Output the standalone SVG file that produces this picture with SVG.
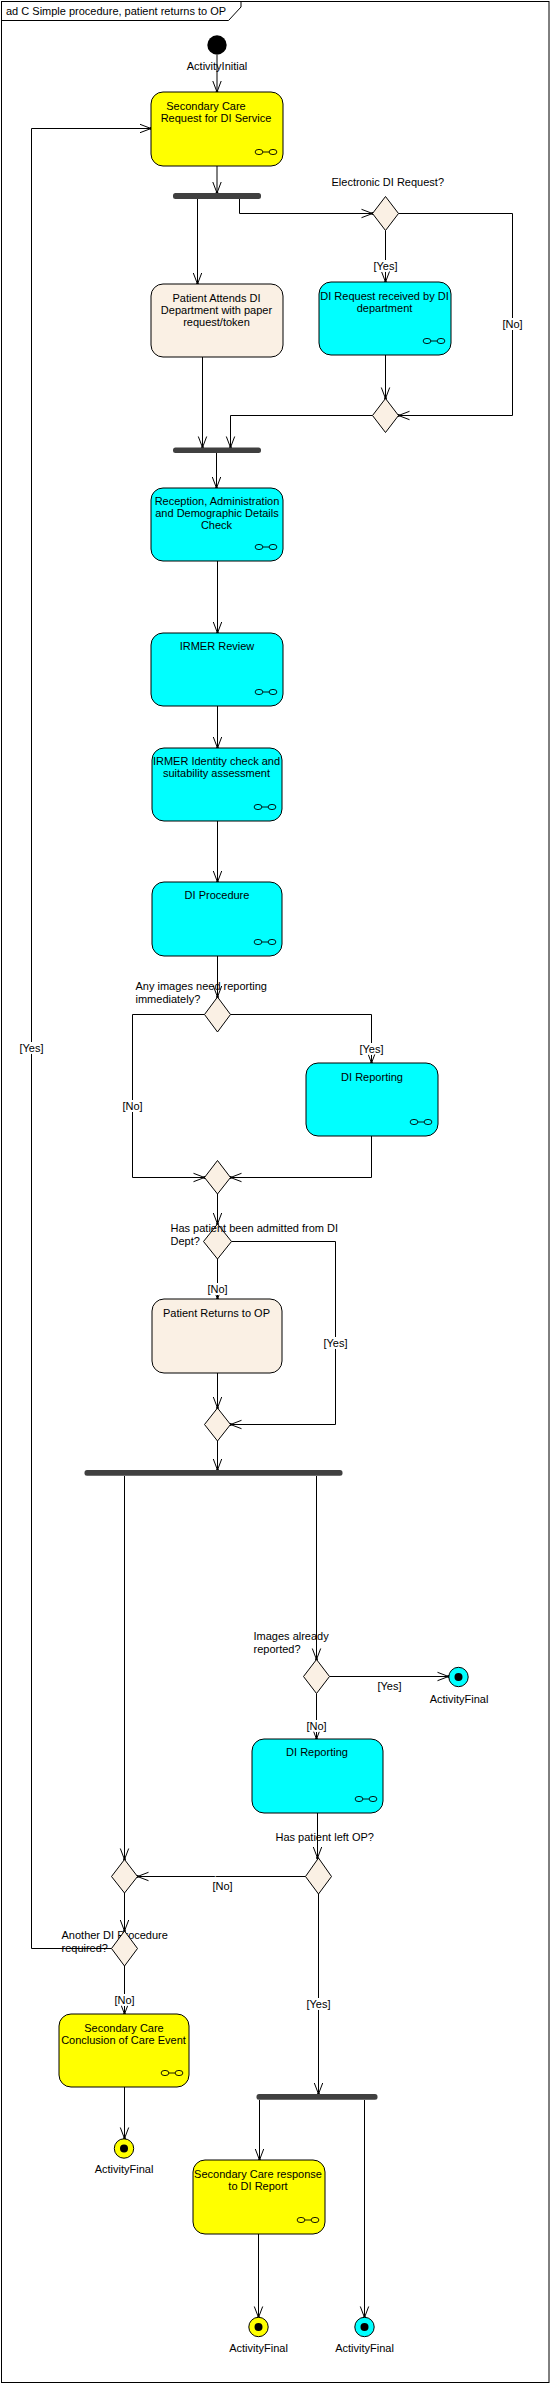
<svg xmlns="http://www.w3.org/2000/svg" width="551" height="2384" viewBox="0 0 551 2384">
<style>
text{font-family:"Liberation Sans",Arial,sans-serif;font-size:11px;fill:#000}
.c{text-anchor:middle}
.lbl{text-anchor:middle;stroke:#fff;stroke-width:4;paint-order:stroke}
.act{stroke:#000;stroke-width:1}
.y{fill:#ffff00}
.cy{fill:#00ffff}
.ln{fill:#faf0e4}
.dec{fill:#faf0e4;stroke:#000;stroke-width:1}
.bar{fill:#404040}
.edge{fill:none;stroke:#000;stroke-width:1;marker-end:url(#arr)}
</style>
<defs>
<marker id="arr" markerUnits="userSpaceOnUse" markerWidth="14" markerHeight="12" viewBox="-12 -6 14 12" refX="0" refY="0" orient="auto">
<path d="M-11,-4.2 L0,0 L-11,4.2" fill="none" stroke="#000" stroke-width="1"/>
<circle cx="0" cy="0" r="1.4" fill="#000"/>
</marker>
<g id="sub">
<ellipse cx="0" cy="0" rx="3.9" ry="2.6" fill="none" stroke="#000" stroke-width="0.9"/>
<ellipse cx="14" cy="0" rx="3.9" ry="2.6" fill="none" stroke="#000" stroke-width="0.9"/>
<line x1="3.9" y1="0" x2="10.1" y2="0" stroke="#000" stroke-width="0.9"/>
</g>
</defs>
<rect width="551" height="2384" fill="#fff"/>
<g id="frame">
<rect x="1.5" y="1.5" width="547.5" height="2381" fill="none" stroke="#000" stroke-width="1"/>
<path d="M1.5,20.5 H228.5 L241,7 V1.5" fill="none" stroke="#000" stroke-width="1"/>
<text x="6" y="14.5">ad C Simple procedure, patient returns to OP</text>
</g>
<g id="connectors">
<path class="edge" d="M217,55 V92"/>
<path class="edge" d="M217,166 V193"/>
<path class="edge" d="M197.5,199 V284"/>
<path class="edge" d="M239.5,199 V213.5 H372.5"/>
<path class="edge" d="M385.5,230.5 V282"/>
<path class="edge" d="M398.5,213.5 H512.5 V415.5 H398.5"/>
<path class="edge" d="M385.5,355 V398.5"/>
<path class="edge" d="M202.5,357 V447.5"/>
<path class="edge" d="M372.5,415.5 H230.5 V447.5"/>
<path class="edge" d="M216.5,453 V488"/>
<path class="edge" d="M217.5,561 V633"/>
<path class="edge" d="M217.5,706 V748"/>
<path class="edge" d="M217.5,821 V882"/>
<path class="edge" d="M217.5,956 V997"/>
<path class="edge" d="M204.5,1014.5 H132.5 V1177.5 H204.5"/>
<path class="edge" d="M230.5,1014.5 H371.5 V1063"/>
<path class="edge" d="M371.5,1136 V1177.5 H230.5"/>
<path class="edge" d="M217.5,1194 V1224"/>
<path class="edge" d="M217.5,1259 V1299"/>
<path class="edge" d="M231.5,1241.5 H335.5 V1424.5 H230.5"/>
<path class="edge" d="M217.5,1373 V1408"/>
<path class="edge" d="M217.5,1441 V1470"/>
<path class="edge" d="M124.5,1476 V1859.5"/>
<path class="edge" d="M316.5,1476 V1659.5"/>
<path class="edge" d="M329.5,1676.5 H448.5"/>
<path class="edge" d="M316.5,1693.5 V1739"/>
<path class="edge" d="M317.5,1813 V1858"/>
<path class="edge" d="M305.5,1876.5 H137.5"/>
<path class="edge" d="M124.5,1893 V1931"/>
<path class="edge" d="M111.5,1948.5 H31.5 V128.5 H151"/>
<path class="edge" d="M124.5,1966 V2014"/>
<path class="edge" d="M318.5,1894 V2094"/>
<path class="edge" d="M124.5,2087 V2138.5"/>
<path class="edge" d="M259.5,2100 V2160"/>
<path class="edge" d="M364.5,2100 V2317.5"/>
<path class="edge" d="M258.5,2234 V2317.5"/>
<text class="lbl" x="385.5" y="270">[Yes]</text>
<text class="lbl" x="512.5" y="328">[No]</text>
<text class="lbl" x="132.5" y="1110">[No]</text>
<text class="lbl" x="371.5" y="1053">[Yes]</text>
<text class="lbl" x="217.5" y="1292.5">[No]</text>
<text class="lbl" x="335.5" y="1347">[Yes]</text>
<text class="lbl" x="389.5" y="1689.5">[Yes]</text>
<text class="lbl" x="316.5" y="1730">[No]</text>
<text class="lbl" x="222.5" y="1890">[No]</text>
<text class="lbl" x="31.5" y="1052">[Yes]</text>
<text class="lbl" x="124.5" y="2004">[No]</text>
<text class="lbl" x="318.5" y="2007.5">[Yes]</text>
</g>
<g id="initial">
<circle cx="217" cy="45" r="9.7" fill="#000"/>
<text class="c" x="217" y="70">ActivityInitial</text>
</g>
<g id="n-sc-request">
<rect class="act y" x="151" y="92" width="132" height="74" rx="12"/>
<text class="c" x="206" y="110">Secondary Care</text>
<text class="c" x="216" y="122">Request for DI Service</text>
<use href="#sub" x="259" y="152"/>
</g>
<g id="bar1"><rect class="bar" x="173" y="193" width="88" height="6" rx="2.5"/></g>
<g id="d-electronic">
<path class="dec" d="M385.5,196.5 L398.5,213.5 L385.5,230.5 L372.5,213.5 Z"/>
<text x="331.5" y="186">Electronic DI Request?</text>
</g>
<g id="n-patient-attends">
<rect class="act ln" x="151" y="284" width="132" height="73" rx="12"/>
<text class="c" x="216.5" y="301.5">Patient Attends DI</text>
<text class="c" x="216.5" y="313.5">Department with paper</text>
<text class="c" x="216.5" y="325.5">request/token</text>
</g>
<g id="n-di-request">
<rect class="act cy" x="319" y="282" width="132" height="73" rx="12"/>
<text class="c" x="384.5" y="299.5">DI Request received by DI</text>
<text class="c" x="384.5" y="311.5">department</text>
<use href="#sub" x="427" y="341"/>
</g>
<g id="d-merge1"><path class="dec" d="M385.5,398.5 L398.5,415.5 L385.5,432.5 L372.5,415.5 Z"/></g>
<g id="bar2"><rect class="bar" x="173" y="447.5" width="88" height="5.5" rx="2.5"/></g>
<g id="n-reception">
<rect class="act cy" x="151" y="488" width="132" height="73" rx="12"/>
<text class="c" x="217" y="504.5">Reception, Administration</text>
<text class="c" x="217" y="516.5">and Demographic Details</text>
<text class="c" x="216.5" y="528.5">Check</text>
<use href="#sub" x="259" y="547"/>
</g>
<g id="n-irmer-review">
<rect class="act cy" x="151" y="633" width="132" height="73" rx="12"/>
<text class="c" x="217" y="649.5">IRMER Review</text>
<use href="#sub" x="259" y="692"/>
</g>
<g id="n-irmer-identity">
<rect class="act cy" x="152" y="748" width="130" height="73" rx="12"/>
<text class="c" x="216.5" y="764.5">IRMER Identity check and</text>
<text class="c" x="216.5" y="776.5">suitability assessment</text>
<use href="#sub" x="258" y="807"/>
</g>
<g id="n-di-procedure">
<rect class="act cy" x="152" y="882" width="130" height="74" rx="12"/>
<text class="c" x="217" y="898.5">DI Procedure</text>
<use href="#sub" x="258" y="942"/>
</g>
<g id="d-images-immediate">
<path class="dec" d="M217.5,997 L230.5,1014.5 L217.5,1032 L204.5,1014.5 Z"/>
<text x="135.5" y="990">Any images need reporting</text>
<text x="135.5" y="1003">immediately?</text>
</g>
<g id="n-di-reporting1">
<rect class="act cy" x="306" y="1063" width="132" height="73" rx="12"/>
<text class="c" x="372" y="1081">DI Reporting</text>
<use href="#sub" x="414" y="1122"/>
</g>
<g id="d-merge2"><path class="dec" d="M217.5,1160.5 L230.5,1177.5 L217.5,1194 L204.5,1177.5 Z"/></g>
<g id="d-admitted">
<path class="dec" d="M217.5,1224 L231.5,1241.5 L217.5,1259 L203.5,1241.5 Z"/>
<text x="170.5" y="1232">Has patient been admitted from DI</text>
<text x="170.5" y="1245">Dept?</text>
</g>
<g id="n-patient-returns">
<rect class="act ln" x="152" y="1299" width="130" height="74" rx="12"/>
<text class="c" x="216.5" y="1316.5">Patient Returns to OP</text>
</g>
<g id="d-merge3"><path class="dec" d="M217.5,1408 L230.5,1424.5 L217.5,1441 L204.5,1424.5 Z"/></g>
<g id="bar3"><rect class="bar" x="84.5" y="1470" width="258" height="5.7" rx="2.5"/></g>
<g id="d-already-reported">
<path class="dec" d="M316.5,1659.5 L329.5,1676.5 L316.5,1693.5 L303.5,1676.5 Z"/>
<text x="253.5" y="1640">Images already</text>
<text x="253.5" y="1653">reported?</text>
</g>
<g id="final1">
<circle cx="458.5" cy="1677" r="9.7" fill="#00ffff" stroke="#000" stroke-width="1"/>
<circle cx="458.5" cy="1677" r="4" fill="#000"/>
<text class="c" x="459" y="1703">ActivityFinal</text>
</g>
<g id="n-di-reporting2">
<rect class="act cy" x="252" y="1739" width="131" height="74" rx="12"/>
<text class="c" x="317" y="1756">DI Reporting</text>
<use href="#sub" x="359" y="1799"/>
</g>
<g id="d-left-op">
<path class="dec" d="M318.5,1858 L331.5,1876.5 L318.5,1894 L305.5,1876.5 Z"/>
<text x="275.5" y="1841">Has patient left OP?</text>
</g>
<g id="d-merge4"><path class="dec" d="M124.5,1859.5 L137.5,1876.5 L124.5,1893 L111.5,1876.5 Z"/></g>
<g id="d-another">
<text x="61.5" y="1939">Another DI Procedure</text>
<text x="61.5" y="1952">required?</text>
<path class="dec" d="M124.5,1931 L137.5,1948.5 L124.5,1966 L111.5,1948.5 Z"/>
</g>
<g id="n-sc-conclusion">
<rect class="act y" x="59" y="2014" width="130" height="73" rx="12"/>
<text class="c" x="124" y="2031.5">Secondary Care</text>
<text class="c" x="123.5" y="2043.5">Conclusion of Care Event</text>
<use href="#sub" x="165" y="2073"/>
</g>
<g id="final2">
<circle cx="124" cy="2148.5" r="9.7" fill="#ffff00" stroke="#000" stroke-width="1"/>
<circle cx="124" cy="2148.5" r="4" fill="#000"/>
<text class="c" x="124" y="2172.5">ActivityFinal</text>
</g>
<g id="bar4"><rect class="bar" x="256.5" y="2094" width="121" height="5.7" rx="2.5"/></g>
<g id="n-sc-response">
<rect class="act y" x="193" y="2160" width="132" height="74" rx="12"/>
<text class="c" x="258" y="2178">Secondary Care response</text>
<text class="c" x="258" y="2190">to DI Report</text>
<use href="#sub" x="301" y="2220"/>
</g>
<g id="final3">
<circle cx="258.5" cy="2327" r="9.7" fill="#ffff00" stroke="#000" stroke-width="1"/>
<circle cx="258.5" cy="2327" r="4" fill="#000"/>
<text class="c" x="258.5" y="2352">ActivityFinal</text>
</g>
<g id="final4">
<circle cx="364.5" cy="2327" r="9.7" fill="#00ffff" stroke="#000" stroke-width="1"/>
<circle cx="364.5" cy="2327" r="4" fill="#000"/>
<text class="c" x="364.5" y="2352">ActivityFinal</text>
</g>
</svg>
